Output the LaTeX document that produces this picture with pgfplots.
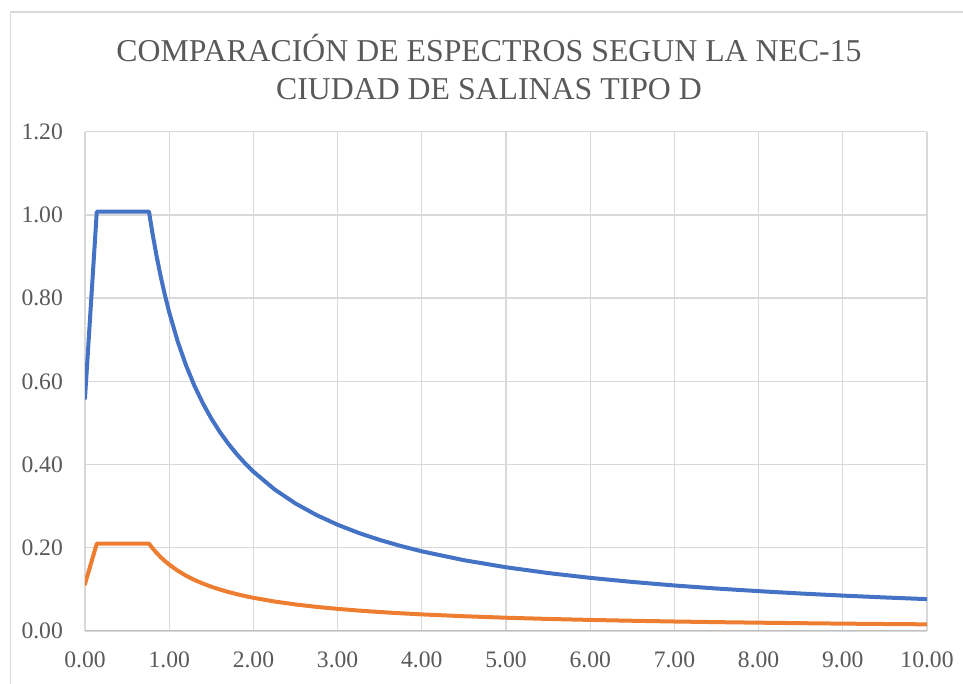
\documentclass[border=0pt]{standalone}
\usepackage{pgfplots}
\pgfplotsset{compat=1.18}
\usepackage{fontspec}
\setmainfont{Liberation Serif}

\definecolor{gridgray}{HTML}{D9D9D9}
\definecolor{axisgray}{HTML}{BFBFBF}
\definecolor{textgray}{HTML}{595959}
\definecolor{exblue}{HTML}{4472C4}
\definecolor{exorange}{HTML}{ED7D31}

\begin{document}
\begin{tikzpicture}
% chart area frame
\draw[gridgray, line width=1.3bp] (10.7bp,-20bp) -- (10.7bp,672bp) -- (990bp,672bp);

% title
\node[anchor=base, text=textgray, font=\fontsize{31.8bp}{36bp}\selectfont, inner sep=0pt]
  at (489bp,622bp) {COMPARACIÓN DE ESPECTROS SEGUN LA NEC-15};
\node[anchor=base, text=textgray, font=\fontsize{31.8bp}{36bp}\selectfont, inner sep=0pt]
  at (489bp,584bp) {CIUDAD DE SALINAS TIPO D};

\begin{axis}[
  at={(85bp,53bp)}, anchor=south west,
  scale only axis, width=842bp, height=499.3bp,
  xmin=0, xmax=10, ymin=0, ymax=1.2,
  xtick={0,1,...,10},
  ytick={0,0.2,0.4,0.6,0.8,1.0,1.2},
  grid=major,
  major grid style={draw=gridgray, line width=1.3bp},
  axis line style={draw=none},
  tick style={draw=none},
  /pgf/number format/assume math mode=true,
  /pgf/number format/.cd, fixed, fixed zerofill, precision=2,
  /pgfplots/.cd,
  ticklabel style={text=textgray, font=\fontsize{23.6bp}{26bp}\selectfont, inner sep=0pt},
  xticklabel style={anchor=north, yshift=-20.7bp},
  yticklabel style={anchor=east, xshift=-22bp},
  scaled ticks=false,
]
% Sa for the design spectrum
\addplot[exblue, line width=4bp, line join=round, line cap=round] coordinates {
  (0.00,0.560) (0.14,1.008) (0.76,1.008)
  (0.80,0.9576) (0.85,0.9013) (0.90,0.8512) (0.95,0.8064) (1.00,0.7661)
  (1.10,0.6964) (1.20,0.6384) (1.30,0.5893) (1.40,0.5472) (1.50,0.5107)
  (1.60,0.4788) (1.70,0.4506) (1.80,0.4256) (1.90,0.4032) (2.00,0.3830)
  (2.25,0.3405) (2.50,0.3064) (2.75,0.2786) (3.00,0.2554) (3.25,0.2357)
  (3.50,0.2189) (3.75,0.2043) (4.00,0.1915) (4.50,0.1702) (5.00,0.1532)
  (5.50,0.1393) (6.00,0.1277) (6.50,0.1179) (7.00,0.1094) (7.50,0.1021)
  (8.00,0.0958) (8.50,0.0901) (9.00,0.0851) (9.50,0.0806) (10.00,0.0766)
};
% reduced (inelastic) spectrum
\addplot[exorange, line width=4bp, line join=round, line cap=round] coordinates {
  (0.00,0.113) (0.14,0.210) (0.76,0.210)
  (0.80,0.1995) (0.85,0.1878) (0.90,0.1773) (0.95,0.1680) (1.00,0.1596)
  (1.10,0.1451) (1.20,0.1330) (1.30,0.1228) (1.40,0.1140) (1.50,0.1064)
  (1.60,0.0998) (1.70,0.0939) (1.80,0.0887) (1.90,0.0840) (2.00,0.0798)
  (2.25,0.0709) (2.50,0.0638) (2.75,0.0580) (3.00,0.0532) (3.25,0.0491)
  (3.50,0.0456) (3.75,0.0426) (4.00,0.0399) (4.50,0.0355) (5.00,0.0319)
  (5.50,0.0290) (6.00,0.0266) (6.50,0.0246) (7.00,0.0228) (7.50,0.0213)
  (8.00,0.0200) (8.50,0.0188) (9.00,0.0177) (9.50,0.0168) (10.00,0.0160)
};
% horizontal axis line
\draw[axisgray, line width=1.3bp] (axis cs:0,0) -- (axis cs:10,0);
\end{axis}

\pgfresetboundingbox
\path[use as bounding box] (0,0) rectangle (963bp,684bp);
\end{tikzpicture}
\end{document}
